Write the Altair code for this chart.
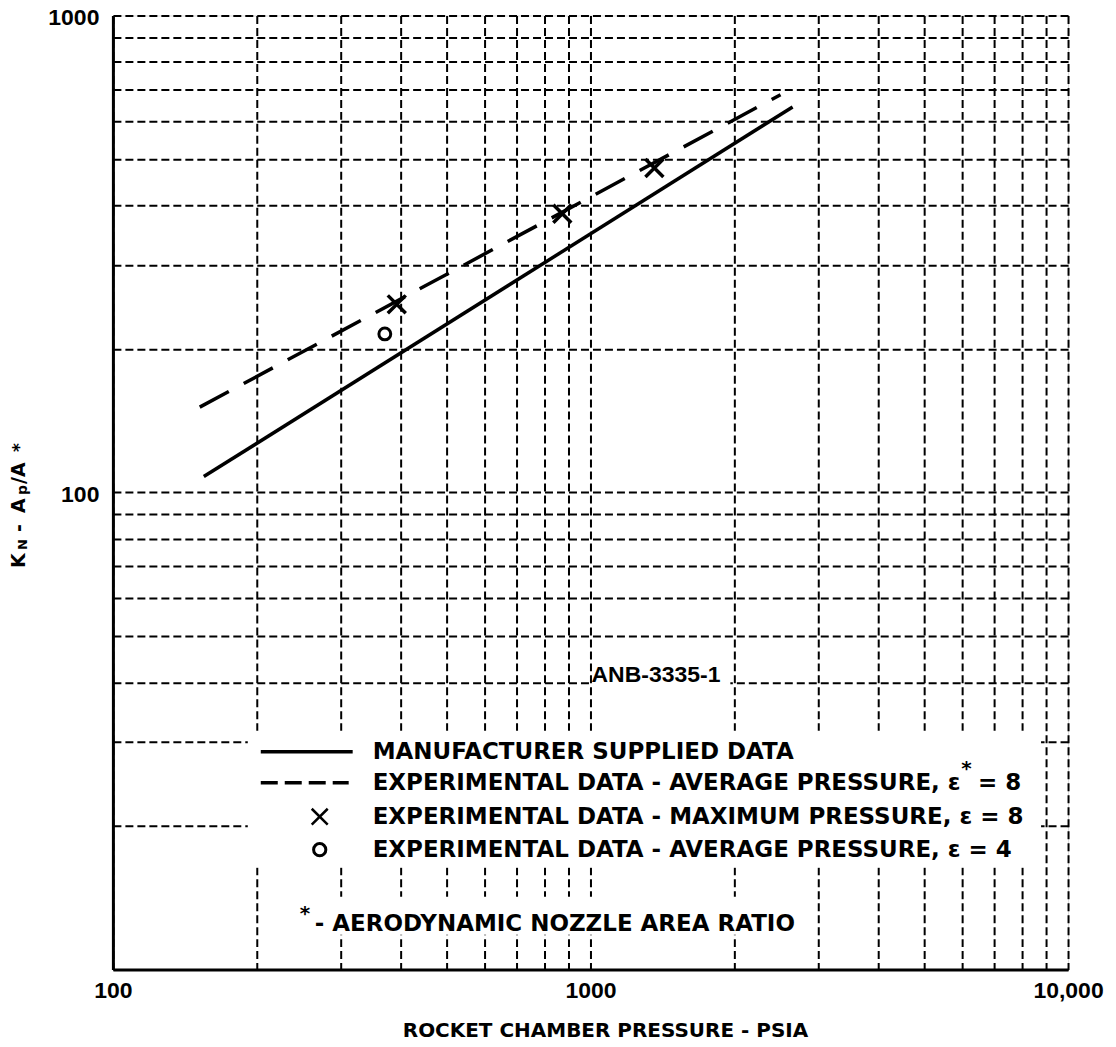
import altair as alt
import pandas as pd

# ---- data ----
x_grid = [100, 200, 300, 400, 500, 600, 700, 800, 900,
          1000, 2000, 3000, 4000, 5000, 6000, 7000, 8000, 9000, 10000]
y_grid = [10, 20, 30, 40, 50, 60, 70, 80, 90,
          100, 200, 300, 400, 500, 600, 700, 800, 900, 1000]

mfr_x = [155, 2650]          # manufacturer supplied data (solid)
mfr_y = [108, 643]
avg8_x = [152, 2500]         # experimental average pressure, eps=8 (dashed)
avg8_y = [151, 682]
max8_x = [393, 873, 1361]    # experimental maximum pressure, eps=8 (x)
max8_y = [248, 384, 479]
avg4_x = [371]               # experimental average pressure, eps=4 (o)
avg4_y = [215]

legend_rows = [
    "MANUFACTURER SUPPLIED DATA",
    "EXPERIMENTAL DATA - AVERAGE PRESSURE, ε",
    "EXPERIMENTAL DATA - MAXIMUM PRESSURE, ε = 8",
    "EXPERIMENTAL DATA - AVERAGE PRESSURE, ε = 4",
]
legend_tails = ["", "= 8", "", ""]
footnote = "- AERODYNAMIC NOZZLE AREA RATIO"
code_label = "ANB-3335-1"
x_title = "ROCKET CHAMBER PRESSURE - PSIA"

W, H = 956, 955
LABEL_FONT = "Liberation Sans"
TEXT_FONT = "DejaVu Sans"

xscale = alt.Scale(type="log", domain=[100, 10000], nice=False)
yscale = alt.Scale(type="log", domain=[10, 1000], nice=False)

xaxis = alt.Axis(
    values=x_grid, grid=True, gridDash=[8, 4], gridColor="black", gridWidth=2,
    gridOpacity=1, ticks=False, domain=True, domainColor="black", domainWidth=3,
    labelExpr="datum.value == 100 ? '\u00a0\u00a0\u00a0100' : datum.value == 1000 ? '1000' : datum.value == 10000 ? '10,000' : ''",
    labelFont=LABEL_FONT, labelFontWeight="bold", labelFontSize=23, labelColor="black",
    labelPadding=10, labelOverlap=False, labelFlush=False, title=None,
)
yaxis = alt.Axis(
    values=y_grid, grid=True, gridDash=[8, 4], gridColor="black", gridWidth=2,
    gridOpacity=1, ticks=False, domain=True, domainColor="black", domainWidth=3,
    labelExpr="datum.value == 100 ? '100' : datum.value == 1000 ? '1000' : ''",
    labelFont=LABEL_FONT, labelFontWeight="bold", labelFontSize=23, labelColor="black",
    labelPadding=14, labelOverlap=False, labelFlush=False, labelOffset=2, title=None,
)

one = alt.Data(values=[{"a": 0}])

def X(field="x"):
    return alt.X(f"{field}:Q", scale=xscale, axis=xaxis)

def Y(field="y"):
    return alt.Y(f"{field}:Q", scale=yscale, axis=yaxis)

# grid carrier layer (invisible points at domain corners)
grid_df = pd.DataFrame({"x": [100, 10000], "y": [10, 1000]})
base = alt.Chart(grid_df).mark_point(opacity=0).encode(x=X(), y=Y())

def box(x1, x2, y1, y2):
    return alt.Chart(one).mark_rect(color="white").encode(
        x=alt.value(x1), x2=alt.value(x2), y=alt.value(y1), y2=alt.value(y2))

def txt(s, x, y, size=23, font=TEXT_FONT, align="left", baseline="middle", angle=0, weight="bold"):
    return alt.Chart(one).mark_text(
        text=s, font=font, fontSize=size, fontWeight=weight, align=align,
        baseline=baseline, angle=angle, color="black").encode(
        x=alt.value(x), y=alt.value(y))

def seg(x1, x2, y, dash=None, width=3.5):
    kw = dict(color="black", strokeWidth=width)
    if dash:
        kw["strokeDash"] = dash
    return alt.Chart(one).mark_rule(**kw).encode(
        x=alt.value(x1), x2=alt.value(x2), y=alt.value(y))

boxes = [
    box(135, 929, 716, 853),   # legend rows
    box(170, 693, 882, 920),   # footnote
    box(480, 618, 652, 676),   # code label
]

mfr = alt.Chart(pd.DataFrame({"x": mfr_x, "y": mfr_y})).mark_line(
    color="black", strokeWidth=3.5).encode(x=X(), y=Y())
avg8 = alt.Chart(pd.DataFrame({"x": avg8_x, "y": avg8_y})).mark_line(
    color="black", strokeWidth=3.5, strokeDash=[33, 17]).encode(x=X(), y=Y())

XSHAPE = "M-1,-1L1,1M-1,1L1,-1"
max8 = alt.Chart(pd.DataFrame({"x": max8_x, "y": max8_y})).mark_point(
    shape=XSHAPE, size=324, strokeWidth=3.5, color="black", filled=False, opacity=1
).encode(x=X(), y=Y())
avg4 = alt.Chart(pd.DataFrame({"x": avg4_x, "y": avg4_y})).mark_point(
    shape="circle", size=140, strokeWidth=3, color="black", filled=False, opacity=1
).encode(x=X(), y=Y())

row_y = [737, 768, 802, 835]
legend = [
    seg(148, 240, row_y[0]),
    seg(148, 236, row_y[1], dash=[17, 7]),
    alt.Chart(one).mark_point(shape=XSHAPE, size=256, strokeWidth=2.5, color="black",
                              filled=False, opacity=1).encode(x=alt.value(207), y=alt.value(row_y[2])),
    alt.Chart(one).mark_point(shape="circle", size=150, strokeWidth=3, color="black",
                              filled=False, opacity=1).encode(x=alt.value(207), y=alt.value(row_y[3])),
]
for s, tail, yy in zip(legend_rows, legend_tails, row_y):
    legend.append(txt(s, 260, yy))
    if tail:
        legend.append(txt(tail, 866, yy))
legend.append(txt("*", 849, 754, size=20))
legend.append(txt("*", 187, 899, size=20))
legend.append(txt(footnote, 202, 909))
legend.append(txt(code_label, 479, 660, font=LABEL_FONT))

# axis titles (y title pieces rotated, reading bottom to top)
titles = [
    txt(x_title, 493, 1016, size=20, align="center"),
    txt("K", -88, 553, size=19, angle=270, baseline="alphabetic"),
    txt("N", -86, 535, size=13, angle=270, baseline="alphabetic"),
    txt("-", -88, 517, size=19, angle=270, baseline="alphabetic"),
    txt("A", -88, 498, size=19, angle=270, baseline="alphabetic"),
    txt("p", -86, 480, size=14, angle=270, baseline="alphabetic"),
    txt("/A", -88, 469, size=19, angle=270, baseline="alphabetic"),
    txt("*", -88, 437, size=17, angle=270, baseline="alphabetic"),
]

chart = alt.layer(base, *boxes, mfr, avg8, max8, avg4, *legend, *titles).properties(
    width=W, height=H,
    autosize=alt.AutoSizeParams(type="none"),
    padding={"left": 105, "top": 7, "right": 40, "bottom": 80},
).configure_view(stroke=None).configure(background="white")

chart.save("out.html", embed_options={"renderer": "svg", "actions": False})
